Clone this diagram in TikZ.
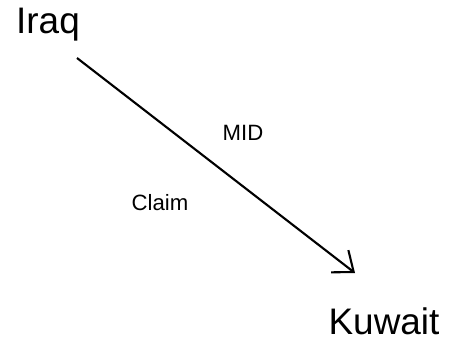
\documentclass[tikz,border=0pt]{standalone}
\usepackage{fontspec}
\setmainfont{Liberation Sans}
\usetikzlibrary{arrows.meta}

\begin{document}
\begin{tikzpicture}
            [x=0.01cm, y=-0.01cm]
            \useasboundingbox (0,0) rectangle (449,342);
            \tikzset{country/.style={font=\fontsize{10.5}{12}\selectfont, inner sep=0pt},
                     tag/.style={font=\fontsize{6.3}{8}\selectfont, inner sep=0pt}}

            % Countries
            \node[country] (iraq) at (48, 25) {Iraq};
            \node[country] (kuwait) at (384, 321) {Kuwait};

            % Ends of the arrow
            \coordinate (from) at (77, 58);
            \coordinate (to) at (355, 273);

            % Labels
            \node[tag] (mid) at (243, 133) {MID};
            \node[tag] (claim) at (160, 203) {Claim};

            \draw[line width=0.6pt, -{Straight Barb[length=5pt, width=8pt]}] (from) -- (to);
        \end{tikzpicture}
\end{document}
